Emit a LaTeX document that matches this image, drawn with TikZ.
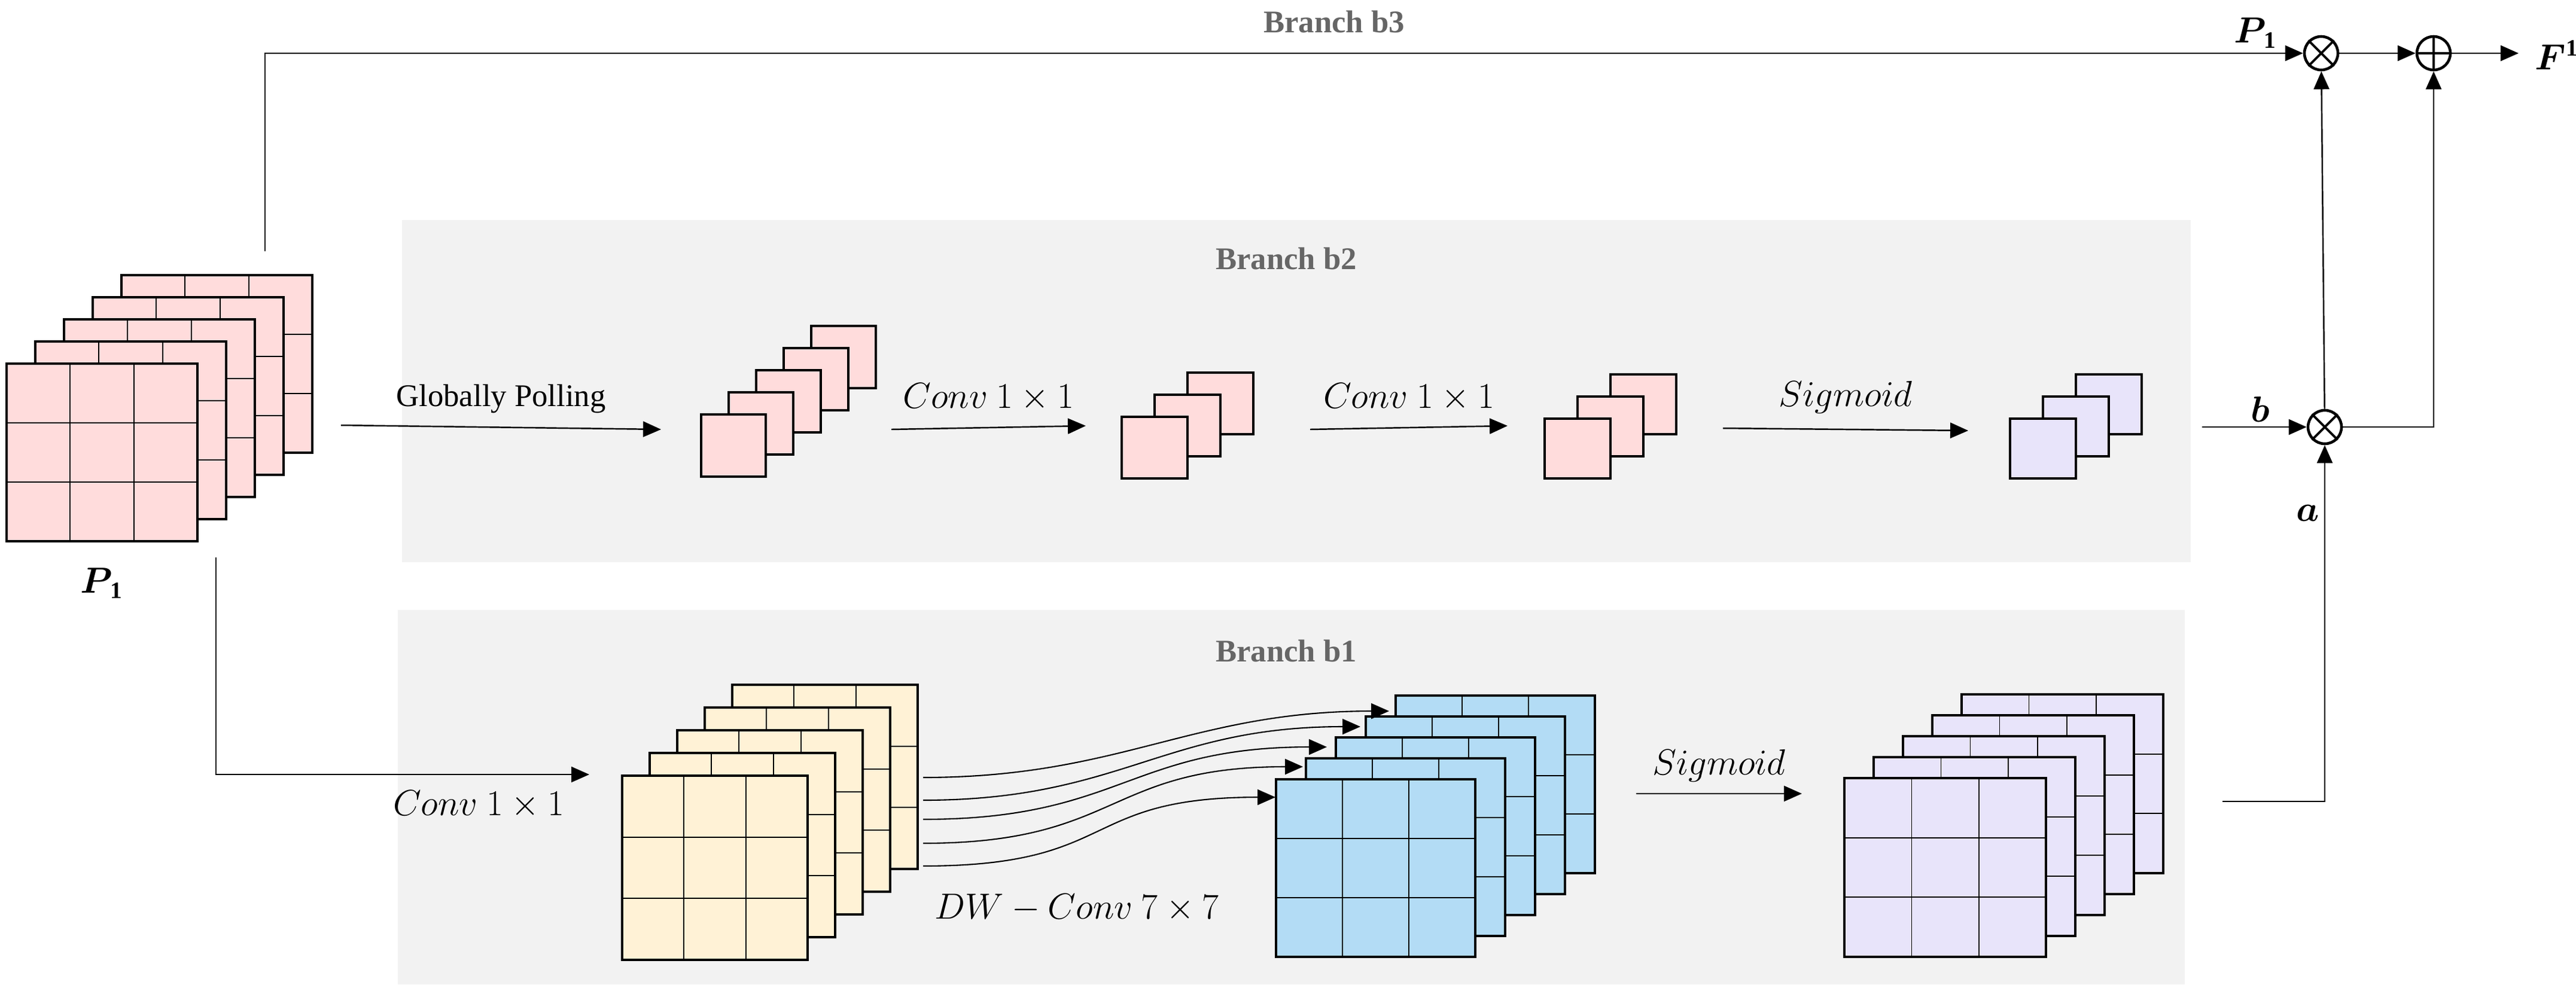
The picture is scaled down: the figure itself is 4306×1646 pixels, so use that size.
\documentclass[tikz,border=0pt]{standalone}
\usepackage{amsmath,bm}
\usepackage{fontspec}
\setmainfont{Liberation Serif}
\usetikzlibrary{arrows.meta}
\definecolor{bgray}{HTML}{F2F2F2}
\definecolor{cpink}{HTML}{FFDCDC}
\definecolor{cyel}{HTML}{FFF2D6}
\definecolor{cblue}{HTML}{B3DCF5}
\definecolor{clav}{HTML}{E8E4FA}
\definecolor{lblgray}{HTML}{666666}
% #1 x, #2 y (top-left of front), #3 w, #4 h, #5 dx, #6 dy, #7 n-1, #8 colour, #9 grid (1/0)
\newcommand\fstack[9]{%
  \foreach \i in {#7,...,0}{%
    \pgfmathsetmacro\xx{#1+\i*#5}\pgfmathsetmacro\yy{#2+\i*#6}%
    \fill[#8] (\xx,\yy) rectangle ++(#3,#4);
    \ifnum#9=1
      \draw[grid] (\xx+#3/3,\yy) -- ++(0,#4) (\xx+2*#3/3,\yy) -- ++(0,#4)
                  (\xx,\yy+#4/3) -- ++(#3,0) (\xx,\yy+2*#4/3) -- ++(#3,0);
    \fi
    \draw[border] (\xx,\yy) rectangle ++(#3,#4);
  }}
\tikzset{
  x=0.1mm, y=-0.1mm,
  border/.style={line width=1.3pt},
  grid/.style={line width=0.5pt},
  arr/.style={line width=0.7pt,-{Triangle[length=3mm,width=2.6mm]}},
  ln/.style={line width=0.7pt},
  blabel/.style={font=\fontsize{15}{18}\selectfont\bfseries, text=lblgray},
  lbl/.style={font=\fontsize{16}{19}\selectfont},
  op/.style={circle, draw, line width=1.3pt, minimum size=5.6mm, inner sep=0pt},
}
\begin{document}
\begin{tikzpicture}
\useasboundingbox (0,0) rectangle (4306,1646);
% backgrounds
\fill[bgray] (672,368) rectangle (3662,940);
\fill[bgray] (665,1020) rectangle (3652,1646);
\node[blabel] (lb3) at (2230,36) {Branch b3};
\node[blabel] (lb2) at (2150,432) {Branch b2};
\node[blabel] (lb1) at (2150,1088) {Branch b1};

% P1 stack
\fstack{11}{608}{319}{297}{48}{-37}{4}{cpink}{1}
\node[lbl] (p1) at (170,975) {$\bm{P}_{\,\mathbf{1}}$};

% b2 stacks
\fstack{1172}{693}{108}{104}{46}{-37}{4}{cpink}{0}
\fstack{1875}{697}{110}{103}{55}{-37}{2}{cpink}{0}
\fstack{2582}{700}{110}{100}{55}{-37}{2}{cpink}{0}
\fstack{3360}{700}{110}{100}{55}{-37}{2}{clav}{0}

% b1 stacks
\fstack{1040}{1297}{310}{308}{46}{-38}{4}{cyel}{1}
\fstack{2133}{1303}{333}{297}{50}{-35}{4}{cblue}{1}
\fstack{3083}{1301}{337}{299}{49}{-35}{4}{clav}{1}

% operator nodes
\node[op] (m1) at (3880,89) {};
\draw[line width=1.1pt] (m1.north west)--(m1.south east) (m1.north east)--(m1.south west);
\node[op] (pl) at (4068,89) {};
\draw[line width=1.1pt] (pl.north)--(pl.south) (pl.west)--(pl.east);
\node[op] (m2) at (3886,714) {};
\draw[line width=1.1pt] (m2.north west)--(m2.south east) (m2.north east)--(m2.south west);
\node[lbl, anchor=west] (F1) at (4225,92) {$\bm{F}^{\mathbf{1}}$};
\coordinate (Fend) at (4210,89);

% coordinates
\coordinate (b3s) at (443,420);
\coordinate (b1s) at (361,932);
\coordinate (gps) at (570,711);
\coordinate (gpe) at (1105,718);
\coordinate (c1s) at (1490,718);
\coordinate (c1e) at (1815,712);
\coordinate (c2s) at (2190,718);
\coordinate (c2e) at (2520,712);
\coordinate (sgs) at (2880,716);
\coordinate (sge) at (3290,720);
\coordinate (bs) at (3681,714);
\coordinate (as) at (3715,1340);
\coordinate (b1e) at (985,1295);
\coordinate (s1s) at (2735,1327);
\coordinate (s1e) at (3012,1327);

% branch b3
\draw[arr] (b3s) |- (m1);
\node[lbl] (p1b) at (3770,55) {$\bm{P}_{\,\mathbf{1}}$};
\draw[arr] (m1) -- (pl);
\draw[arr] (pl) -- (Fend);
% branch b2
\draw[arr] (gps) -- (gpe) node[midway, above=3pt, font=\fontsize{15}{18}\selectfont] {Globally Polling};
\draw[arr] (c1s) -- (c1e) node[midway, above=4pt, lbl] {$Conv\ 1\times 1$};
\draw[arr] (c2s) -- (c2e) node[midway, above=4pt, lbl] {$Conv\ 1\times 1$};
\draw[arr] (sgs) -- (sge) node[midway, above=4pt, lbl] {$Sigmoid$};
\draw[arr] (bs) -- (m2);
\node[lbl] (lbb) at (3778,684) {$\bm{b}$};
\draw[arr] (m2) -- (m1);
\draw[arr] (m2) -| (pl);
% branch b1
\draw[arr] (b1s) |- (b1e);
\node[lbl] (lc) at (800,1345) {$Conv\ 1\times 1$};
\foreach \ys/\xe/\ye in {1300/2322/1189, 1338/2274/1215, 1370/2218/1249, 1410/2178/1282, 1448/2132/1333}{
  \coordinate (cs) at (1543,\ys);
  \coordinate (ce) at (\xe,\ye);
  \draw[arr, line width=0.6pt] (cs) .. controls +(330,0) and +(-330,0) .. (ce);
}
\node[lbl] (dw) at (1800,1518) {$DW-Conv\ 7\times 7$};
\draw[arr] (s1s) -- (s1e) node[midway, above=2pt, lbl] {$Sigmoid$};
\draw[arr] (as) -| (m2);
\node[lbl] (lba) at (3858,858) {$\bm{a}$};
\end{tikzpicture}
\end{document}
